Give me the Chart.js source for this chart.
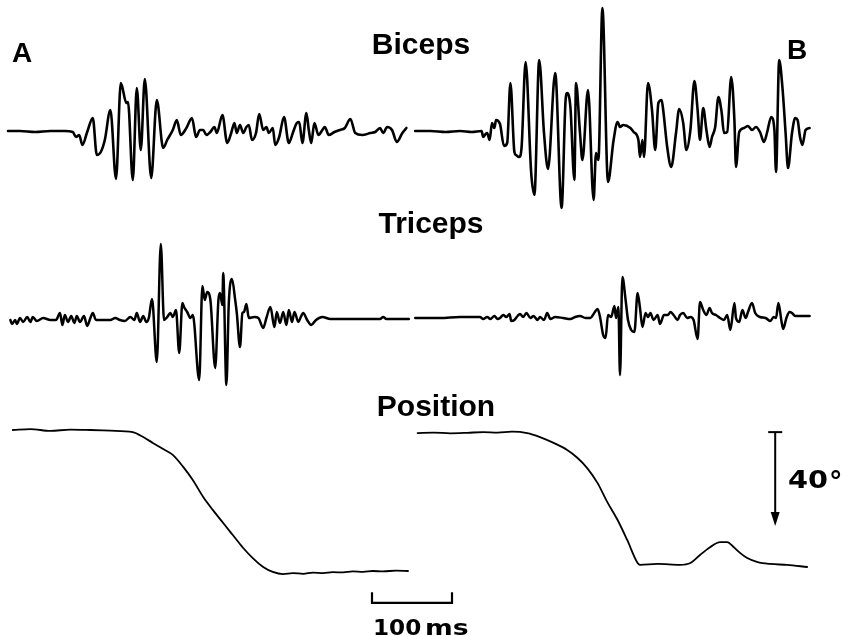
<!DOCTYPE html>
<html>
<head>
<meta charset="utf-8">
<title>Biceps, triceps and elbow position</title>
<script src="https://cdn.jsdelivr.net/npm/chart.js@4/dist/chart.umd.min.js"></script>
<style>
  html, body { margin: 0; padding: 0; background: #fff; }
  #wrap { width: 842px; height: 636px; }
</style>
</head>
<body>
<div id="wrap"><canvas id="emg" width="842" height="636"></canvas></div>
<script>
// sweep B is plotted to the right of sweep A on the same time axis (ms)
const sweepB = 509;

// [time ms, amplitude] raw EMG traces, arbitrary units
const bicepsA = [[0,0],[15,0],[34,-1],[53,0],[71,0],[81,-1],[85,-6],[89,-4],[93,-14],[99,-1],[106,13],[111,-24],[116,-21],[121,-9],[128,21],[135,-48],[141,48],[148,28],[150,29],[156,-49],[161,43],[166,-19],[171,52],[179,-47],[186,31],[194,-17],[199,-9],[206,1],[211,11],[216,-4],[223,3],[230,13],[235,-6],[240,1],[244,1],[248,-4],[253,-1],[258,4],[261,-2],[268,16],[274,-12],[279,-2],[283,8],[286,-2],[290,6],[294,-2],[298,4],[301,6],[305,-9],[310,-2],[314,17],[319,1],[323,4],[326,-2],[331,3],[334,-14],[339,-6],[345,14],[351,-12],[356,-2],[361,8],[364,9],[368,-12],[373,18],[376,1],[379,-12],[383,8],[388,-4],[393,1],[396,4],[401,-4],[408,-1],[415,1],[421,3],[428,12],[434,-2],[443,-4],[453,-2],[459,-1],[465,3],[469,-2],[474,4],[480,1],[486,-11],[493,-2],[498,3]];

const bicepsB = [[0,0],[19,0],[38,-1],[56,0],[71,-1],[83,0],[85,-6],[88,-3],[90,-2],[93,-9],[96,8],[99,3],[101,11],[106,7],[111,-15],[115,-12],[119,48],[124,-21],[126,-24],[130,-26],[133,-16],[138,69],[145,-42],[149,-64],[155,71],[161,-2],[166,-38],[175,58],[183,-77],[188,31],[190,38],[194,24],[199,-49],[201,48],[206,-2],[209,-29],[216,41],[223,-69],[226,-22],[229,-29],[234,123],[241,-51],[248,-9],[253,9],[256,4],[260,6],[269,3],[273,-1],[279,-9],[281,-26],[284,-9],[286,-26],[291,48],[296,21],[300,-19],[304,28],[308,31],[310,21],[315,-16],[320,-36],[326,-2],[330,22],[335,8],[339,-19],[344,1],[349,50],[353,21],[356,-9],[360,23],[364,1],[368,-16],[371,-6],[375,4],[379,34],[383,19],[386,-2],[390,-1],[395,54],[399,11],[401,-36],[405,-1],[411,3],[416,5],[421,1],[426,4],[431,-1],[436,-11],[440,-1],[445,14],[449,1],[451,-41],[455,71],[459,44],[463,-2],[466,-37],[471,-2],[475,13],[478,11],[481,-6],[484,-14],[488,1],[493,3]];

const tricepsA = [[3,-1],[5,-5],[9,-1],[11,-5],[15,1],[19,-3],[24,2],[28,-3],[31,2],[36,-2],[44,1],[53,-1],[60,-1],[65,6],[68,-6],[71,4],[75,-3],[79,3],[83,-4],[86,3],[90,-3],[95,3],[99,-7],[103,1],[106,6],[110,-1],[119,-1],[128,-1],[134,1],[140,-1],[146,-2],[153,2],[158,-1],[161,6],[165,-3],[169,3],[173,-3],[176,1],[180,20],[186,-43],[191,75],[195,-1],[199,2],[203,6],[206,2],[210,9],[214,-34],[218,16],[220,12],[224,7],[228,1],[231,4],[239,-61],[243,33],[246,19],[249,27],[253,19],[259,-49],[263,19],[265,26],[268,14],[269,46],[273,-66],[276,16],[280,40],[284,19],[286,6],[290,-28],[293,6],[295,7],[298,15],[301,1],[308,2],[313,1],[319,-9],[323,1],[328,12],[333,-8],[336,7],[340,-4],[344,7],[348,-6],[351,9],[355,-3],[358,7],[363,-3],[366,2],[369,6],[374,-1],[379,-6],[385,-1],[393,2],[403,0],[434,0],[465,0],[469,2],[473,0],[501,0]];

const tricepsB = [[0,1],[31,1],[56,2],[81,2],[85,0],[90,2],[94,0],[99,3],[103,0],[106,1],[110,4],[114,2],[118,5],[120,-2],[124,-1],[128,3],[131,5],[135,2],[139,6],[144,1],[148,3],[153,-1],[156,2],[161,-1],[165,6],[169,0],[175,2],[185,1],[194,0],[200,2],[206,3],[213,1],[219,1],[223,5],[228,10],[231,2],[235,-16],[238,-19],[241,4],[245,2],[249,13],[251,1],[254,12],[256,-56],[259,42],[263,19],[266,-1],[270,-11],[274,-13],[278,26],[281,11],[284,-8],[288,6],[291,2],[294,6],[298,-1],[303,4],[306,-5],[311,4],[316,4],[319,7],[323,4],[328,-1],[331,4],[335,6],[340,1],[344,2],[348,-1],[353,-20],[356,17],[360,9],[364,4],[368,11],[371,6],[376,4],[381,1],[386,-1],[390,4],[394,-11],[399,16],[401,1],[405,-3],[409,9],[413,1],[416,7],[421,16],[425,6],[431,2],[438,1],[444,-2],[448,2],[451,1],[454,16],[458,-3],[460,-10],[464,1],[468,7],[471,6],[475,3],[481,3],[493,3]];

// elbow position in degrees, relative to the starting angle of sweep A
const positionA = [[6,0],[28,0.4],[53,-0.4],[78,0.2],[103,0],[128,-0.3],[156,-0.9],[169,-3.0],[181,-5.5],[194,-8.1],[206,-10.6],[219,-15.7],[231,-21.3],[244,-28.5],[256,-34.0],[269,-39.6],[281,-44.7],[294,-50.2],[306,-54.5],[319,-58.3],[331,-60.4],[344,-61.3],[356,-60.9],[369,-61.2],[381,-60.7],[394,-60.9],[406,-60.5],[419,-60.6],[431,-60.2],[444,-60.4],[456,-60.0],[469,-60.2],[485,-59.8],[500,-60.0]];

const positionB = [[3,-1.3],[23,-1.1],[44,-1.4],[65,-1.2],[85,-0.9],[103,-1.1],[121,-0.7],[140,-1.3],[156,-3.0],[173,-5.5],[190,-8.5],[203,-11.9],[215,-16.2],[228,-22.6],[240,-30.6],[253,-38.3],[265,-46.8],[278,-56.6],[281,-57.4],[303,-57.0],[331,-57.4],[344,-56.6],[356,-53.2],[369,-49.8],[381,-47.7],[390,-47.7],[398,-49.8],[406,-52.3],[415,-54.5],[428,-56.2],[444,-57.0],[465,-57.4],[490,-58.3]];

// calibration bars
const timeBarMs = 100;
const angleBarDeg = 40;

function trace(points, offset) {
  return points.map(p => ({ x: p[0] + offset, y: p[1] }));
}

function line(points, offset, axis, width) {
  return {
    data: trace(points, offset),
    yAxisID: axis,
    borderColor: '#000',
    borderWidth: width,
    borderJoinStyle: 'round',
    borderCapStyle: 'round',
    pointRadius: 0,
    cubicInterpolationMode: 'monotone',
    fill: false
  };
}

const timeBarStart = 455;
const angleBarX = sweepB + 450;
const angleBarTop = -0.9;

const datasets = [
  line(bicepsA, 0, 'yBic', 2.6),
  line(bicepsB, sweepB, 'yBic', 2.6),
  line(tricepsA, 0, 'yTri', 2.5),
  line(tricepsB, sweepB, 'yTri', 2.5),
  line(positionA, 0, 'yPos', 1.8),
  line(positionB, sweepB, 'yPos', 1.8),
  {
    data: [
      { x: timeBarStart, y: -69 },
      { x: timeBarStart, y: -73.6 },
      { x: timeBarStart + timeBarMs, y: -73.6 },
      { x: timeBarStart + timeBarMs, y: -69 }
    ],
    yAxisID: 'yPos',
    borderColor: '#000',
    borderWidth: 2.2,
    pointRadius: 0,
    tension: 0
  },
  {
    data: [
      { x: angleBarX, y: angleBarTop },
      { x: angleBarX, y: angleBarTop - angleBarDeg + 3 }
    ],
    yAxisID: 'yPos',
    borderColor: '#000',
    borderWidth: 2,
    borderCapStyle: 'butt',
    pointStyle: ['line', false],
    pointRadius: [7, 0],
    pointBorderWidth: 2,
    pointBorderColor: '#000',
    tension: 0
  }
];

// arrow head of the angle bar and the text labels
const annotate = {
  id: 'annotate',
  afterDatasetsDraw(chart) {
    const ctx = chart.ctx;
    const xs = chart.scales.x, yp = chart.scales.yPos;
    const ax = xs.getPixelForValue(angleBarX);
    const tip = yp.getPixelForValue(angleBarTop - angleBarDeg);
    ctx.save();
    ctx.fillStyle = '#000';
    ctx.beginPath();
    ctx.moveTo(ax - 4.5, tip - 14);
    ctx.lineTo(ax + 4.5, tip - 14);
    ctx.lineTo(ax, tip);
    ctx.closePath();
    ctx.fill();

    ctx.textBaseline = 'alphabetic';
    ctx.font = 'bold 28px "Liberation Sans", Arial, sans-serif';
    ctx.textAlign = 'left';
    ctx.fillText('A', 12, 62);
    ctx.fillText('B', 787, 59);

    ctx.font = 'bold 30px "Liberation Sans", Arial, sans-serif';
    ctx.textAlign = 'center';
    ctx.fillText('Biceps', 421, 54);
    ctx.fillText('Triceps', 431, 233);
    ctx.fillText('Position', 436, 416);

    // heavy, wide numerals of the calibration labels
    ctx.textAlign = 'left';
    ctx.font = 'bold 25px "DejaVu Sans", sans-serif';
    ctx.save();
    ctx.translate(788, 488);
    ctx.scale(1.15, 1);
    ctx.fillText('40', 0, 0);
    ctx.restore();
    ctx.font = 'bold 27px "DejaVu Sans", sans-serif';
    ctx.fillText('\u00b0', 829, 490);

    ctx.font = 'bold 21px "DejaVu Sans", sans-serif';
    ctx.save();
    ctx.translate(373, 635);
    ctx.scale(1.1, 1);
    ctx.fillText('100', 0, 0);
    ctx.restore();
    ctx.save();
    ctx.translate(425, 635);
    ctx.scale(1.27, 1);
    ctx.fillText('ms', 0, 0);
    ctx.restore();
    ctx.restore();
  }
};

new Chart(document.getElementById('emg').getContext('2d'), {
  type: 'line',
  data: { datasets: datasets },
  options: {
    responsive: false,
    animation: false,
    layout: { padding: 0, autoPadding: false },
    plugins: { legend: { display: false }, tooltip: { enabled: false } },
    scales: {
      x: { type: 'linear', min: -10, max: 1042.5, display: false },
      yBic: { type: 'linear', min: -505, max: 131, display: false },
      yTri: { type: 'linear', min: -317, max: 319, display: false },
      yPos: { type: 'linear', min: -87.66, max: 182.98, display: false }
    }
  },
  plugins: [annotate]
});
</script>
</body>
</html>
